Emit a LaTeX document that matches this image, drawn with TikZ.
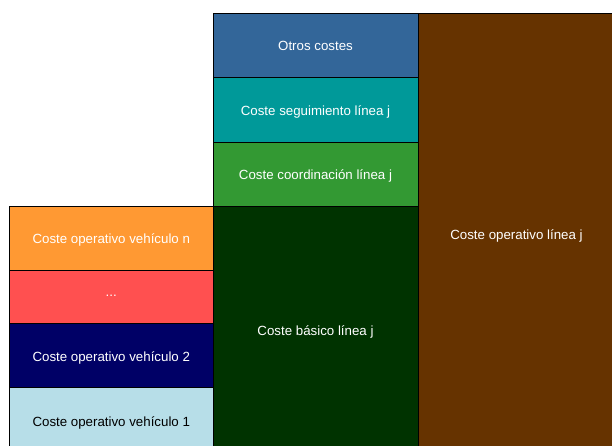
\documentclass[tikz,border=0pt]{standalone}
\usepackage{fontspec}
\setmainfont{Liberation Sans}
\definecolor{cOrange}{HTML}{FF9933}
\definecolor{cRed}{HTML}{FF5050}
\definecolor{cNavy}{HTML}{000066}
\definecolor{cLight}{HTML}{B7DEE8}
\definecolor{cBlue}{HTML}{336699}
\definecolor{cTeal}{HTML}{009999}
\definecolor{cGreen}{HTML}{339933}
\definecolor{cDark}{HTML}{003300}
\definecolor{cBrown}{HTML}{663300}
\tikzset{
  costbox/.style={rectangle, draw=black, line width=0.8pt, inner sep=0pt, outer sep=0pt,
    text=white, font=\fontsize{13.3}{15}\selectfont, align=center,
    text height=11pt, text depth=0pt},
}
\begin{document}
\begin{tikzpicture}[x=1pt,y=1pt]
\useasboundingbox (0,0) rectangle (612,445);
\begin{scope}
\clip (0,0) rectangle (612,445);
% right column
\node[costbox, fill=cBrown, minimum width=196pt, minimum height=441.5pt] (oplinea) at (516.5,211.25) {Coste operativo línea j};
% middle column
\node[costbox, fill=cDark, minimum width=205pt, minimum height=248.5pt] (basico) at (315.5,114.75) {Coste básico línea j};
\node[costbox, fill=cGreen, minimum width=205pt, minimum height=64pt] (coord) at (315.5,271) {Coste coordinación línea j};
\node[costbox, fill=cTeal, minimum width=205pt, minimum height=64.3pt] (seg) at (315.5,335.15) {Coste seguimiento línea j};
\node[costbox, fill=cBlue, minimum width=205pt, minimum height=64.7pt] (otros) at (315.5,399.65) {Otros costes};
% left column
\node[costbox, fill=cLight, text=black, minimum width=203.5pt, minimum height=66.8pt] (v1) at (111.25,23.9) {Coste operativo vehículo 1};
\node[costbox, fill=cNavy, minimum width=203.5pt, minimum height=64.4pt] (v2) at (111.25,89.5) {Coste operativo vehículo 2};
\node[costbox, fill=cRed, minimum width=203.5pt, minimum height=53.3pt, text height=0pt] (dots) at (111.25,148.35) {...};
\node[costbox, fill=cOrange, minimum width=203.5pt, minimum height=64pt] (vn) at (111.25,207) {Coste operativo vehículo n};
\end{scope}
\end{tikzpicture}
\end{document}
